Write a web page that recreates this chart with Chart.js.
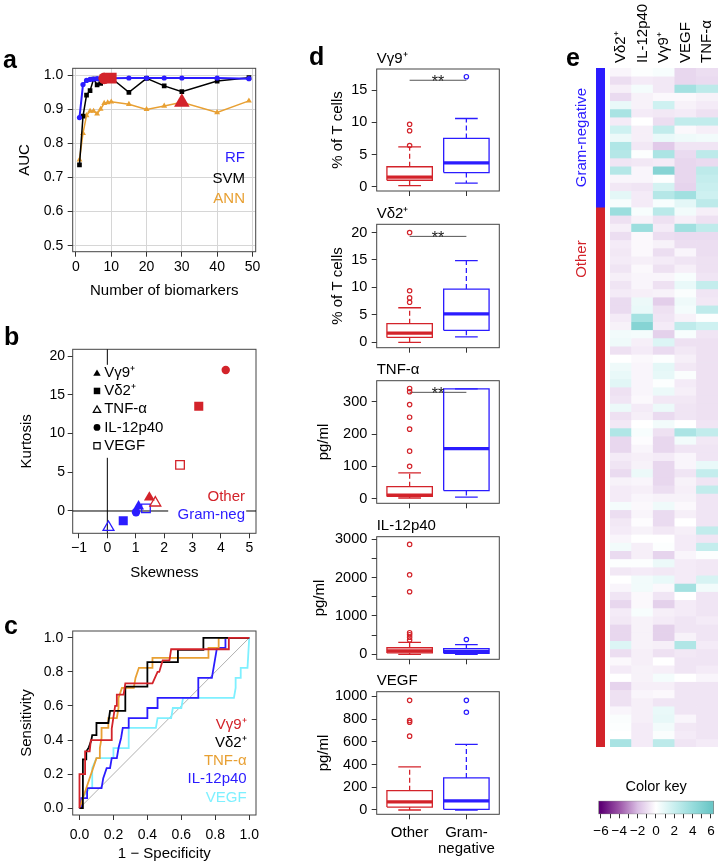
<!DOCTYPE html>
<html lang="en"><head><meta charset="utf-8"><title>Biomarker figure</title>
<script src="https://cdn.jsdelivr.net/npm/chart.js@4.4.1/dist/chart.umd.min.js"></script>
<style>
html,body{margin:0;padding:0;background:#fff}
body{position:relative;width:725px;height:866px;overflow:hidden;font-family:'Liberation Sans',Arial,sans-serif}
.box{position:absolute}
.box canvas{display:block}
.letter{position:absolute;font-weight:bold;font-size:25px;line-height:25px;color:#000;z-index:5}
</style></head><body>
<div class="box" style="left:0;top:40px;width:280px;height:265px"><canvas id="chartA"></canvas></div>
<div class="box" style="left:0;top:305px;width:280px;height:285px"><canvas id="chartB"></canvas></div>
<div class="box" style="left:0;top:590px;width:280px;height:276px"><canvas id="chartC"></canvas></div>
<div class="box" style="left:300px;top:45px;width:210px;height:155px"><canvas id="chartD1"></canvas></div>
<div class="box" style="left:300px;top:200px;width:210px;height:156px"><canvas id="chartD2"></canvas></div>
<div class="box" style="left:300px;top:356px;width:210px;height:156px"><canvas id="chartD3"></canvas></div>
<div class="box" style="left:300px;top:512px;width:210px;height:156px"><canvas id="chartD4"></canvas></div>
<div class="box" style="left:300px;top:668px;width:210px;height:198px"><canvas id="chartD5"></canvas></div>
<div class="box" style="left:560px;top:0;width:165px;height:760px"><canvas id="chartE"></canvas></div>
<div class="box" style="left:596px;top:68px;width:9px;height:679px"><canvas id="chartSide"></canvas></div>
<div class="box" style="left:560px;top:760px;width:165px;height:106px"><canvas id="chartKey"></canvas></div>
<div class="letter" style="left:3px;top:47px">a</div>
<div class="letter" style="left:4px;top:324px">b</div>
<div class="letter" style="left:4px;top:613px">c</div>
<div class="letter" style="left:309px;top:44px">d</div>
<div class="letter" style="left:566px;top:45px">e</div>
<script>
// ---------------- DATA ----------------
// panel a : AUC vs number of biomarkers
const nBio   = [1,2,3,4,5,6,7,8,9,10,15,20,25,30,40,49];
const aucRF  = [0.876,0.973,0.985,0.988,0.989,0.990,0.990,0.991,0.991,0.991,0.992,0.992,0.992,0.992,0.992,0.990];
const aucSVM = [0.737,0.880,0.942,0.955,0.989,0.972,0.976,0.986,0.990,0.992,0.950,0.991,0.969,0.952,0.983,0.993];
const aucANN = [0.752,0.830,0.882,0.895,0.895,0.887,0.901,0.918,0.920,0.922,0.915,0.900,0.910,0.921,0.891,0.925];
const modelNames = ['RF','SVM','ANN'];
const bestIndex  = [7, 9, 13];   // index into nBio of the selected model (8, 10, 30 biomarkers)

// panel b : skewness / kurtosis
const markers   = ['V\u03b39\u207a','V\u03b42\u207a','TNF-\u03b1','IL-12p40','VEGF'];
const skewOther = [1.48, 3.22, 1.69, 4.17, 2.56];
const kurtOther = [1.75, 13.53, 1.05, 18.19, 5.95];
const skewGram  = [1.10, 0.56, 0.04, 1.01, 1.36];
const kurtGram  = [0.60, -1.25, -2.10, -0.17, 0.34];
const groupNamesShort = ['Other','Gram-neg'];

// panel c : ROC curves (1 - specificity, sensitivity)
const vg9Fpr  = [0,0,0.033,0.033,0.06,0.067,0.19,0.19,0.2,0.21,0.22,0.22,0.26,0.27,0.43,0.46,0.47,0.49,0.53,0.54,0.88,0.88,1];
const vg9Tpr  = [0,0.2,0.2,0.333,0.333,0.4,0.4,0.467,0.533,0.6,0.6,0.667,0.667,0.733,0.733,0.8,0.8,0.867,0.867,0.933,0.933,1,1];
const vd2Fpr  = [0,0.02,0.02,0.04,0.04,0.055,0.07,0.075,0.1,0.1,0.17,0.18,0.27,0.27,0.4,0.4,0.58,0.58,0.73,0.73,1];
const vd2Tpr  = [0,0,0.286,0.286,0.333,0.357,0.4,0.429,0.429,0.5,0.5,0.571,0.571,0.714,0.714,0.857,0.857,0.929,0.929,1,1];
const tnfFpr  = [0,0.1,0.12,0.12,0.13,0.13,0.17,0.17,0.22,0.23,0.23,0.25,0.32,0.33,0.35,0.43,0.43,0.76,0.76,0.82,0.82,1];
const tnfTpr  = [0,0.294,0.294,0.353,0.412,0.471,0.471,0.529,0.529,0.588,0.647,0.706,0.706,0.765,0.824,0.824,0.882,0.882,0.941,0.941,1,1];
const il12Fpr = [0,0.01,0.01,0.045,0.045,0.13,0.14,0.16,0.18,0.19,0.22,0.23,0.245,0.255,0.29,0.29,0.4,0.4,0.46,0.46,0.7,0.7,0.78,0.79,0.8,0.81,0.86,0.86,1];
const il12Tpr = [0,0,0.059,0.059,0.118,0.118,0.176,0.235,0.235,0.294,0.294,0.353,0.412,0.471,0.471,0.529,0.529,0.588,0.588,0.647,0.647,0.765,0.765,0.824,0.882,0.941,0.941,1,1];
const vegfFpr = [0,0.015,0.06,0.075,0.075,0.1,0.2,0.2,0.29,0.29,0.45,0.46,0.54,0.55,0.6,0.61,0.91,0.92,0.92,0.95,0.95,0.99,1];
const vegfTpr = [0,0.059,0.118,0.118,0.235,0.294,0.294,0.353,0.353,0.471,0.471,0.529,0.529,0.588,0.588,0.647,0.647,0.706,0.765,0.765,0.824,0.824,1];

// panel d : box plots  [lower whisker, Q1, median, Q3, upper whisker]
const boxGroups = ['Other', ['Gram-','negative']];
const vg9Other = [0.16, 1.0, 1.5, 3.1, 6.2];   const vg9OtherOut = [6.4, 8.7, 9.7];
const vg9Gram  = [0.57, 2.2, 3.7, 7.5, 10.6];  const vg9GramOut  = [17.1];
const vd2Other = [0.0, 0.9, 1.7, 3.4, 6.3];    const vd2OtherOut = [7.3, 8.1, 9.4, 20.0];
const vd2Gram  = [1.0, 2.2, 5.2, 9.7, 14.9];   const vd2GramOut  = [];
const tnfOther = [2, 7, 11, 37, 80];           const tnfOtherOut = [100, 147, 215, 252, 291, 331, 341];
const tnfGram  = [5, 25, 155, 340, 340];       const tnfGramOut  = [];
const il12Other = [5, 40, 95, 175, 316];       const il12OtherOut = [377, 447, 514, 566, 1630, 2070, 2860];
const il12Gram  = [5, 30, 82, 150, 255];       const il12GramOut  = [390];
const vegfOther = [0, 26, 72, 170, 380];       const vegfOtherOut = [650, 772, 787, 965];
const vegfGram  = [0, 6, 80, 282, 578];        const vegfGramOut  = [860, 965];
const vg9Sig = 16.55, vd2Sig = 19.3, tnfSig = 329;
const il12Ticks = [0, 500, 1000, 1500, 2000, 2500, 3000];
const il12TickLabels = ['0', '', '1000', '', '2000', '', '3000'];

// panel e : heat map (rows = patients, top to bottom)
const heatLabels = ['V\u03b42\u207a','IL-12p40','V\u03b39\u207a','VEGF','TNF-\u03b1'];
const rowGroups = ['Gram-negative','Other'];
const groupCounts = [17, 66];
const vd2Heat = [-0.3,-1.0,-0.5,-1.1,0.8,3.3,-0.6,1.8,0.7,3.0, 2.8,-0.8,2.8,-0.3,-0.7,1.0,0.3,3.8,-0.9,-0.5,
 -1.0,-0.6,-0.7,-0.6,-0.8,-0.5,-0.8,-0.6,-1.1,-1.1, -0.6,-0.4,0.5,0.6,-0.9,0.0,0.6,0.8,1.1,-0.9,
 -0.8,0.7,-0.9,-0.7,3.0,-1.2,-1.2,-0.6,-0.8,-1.1, -0.4,-0.6,-0.6,0.4,-1.0,-0.7,-0.6,-0.3,0.5,-1.1,
 0.1,-0.7,0.0,-0.3,-0.8,-1.2,-0.6,-0.7,-1.2,-1.2, 1.3,-1.0,-0.2,-0.6,0.0,-1.3,-0.9,-0.9,-0.3,0.2, 0.1,0.0,3.3];
const il12Heat = [0.1,-0.6,0.4,-0.4,-0.4,-0.6,0.0,-0.5,-0.5,-0.7, 0.1,-0.7,-0.3,-0.3,-0.8,-0.6,-0.6,0.3,-0.4,3.8,
 -0.2,-0.2,-0.2,-0.5,-0.2,-0.3,-0.3,-0.5,0.7,0.8, 3.4,4.8,0.4,-0.5,-0.6,-0.2,-0.3,-0.3,-0.3,-0.3,
 -0.2,-0.6,-0.5,0.0,0.3,-0.1,-0.3,-0.5,-0.4,0.7, -0.3,-0.5,-0.3,-0.2,-0.3,-0.1,-0.4,0.0,-0.5,-0.5,
 0.1,-0.6,0.5,0.5,-0.2,-0.2,0.3,-0.4,-0.4,-0.4, -0.4,-0.5,-0.5,-0.4,-0.4,-0.5,-0.3,-0.5,-0.5,-0.5, -0.6,-0.6,-0.6];
const vg9Heat = [0.3,-0.7,-0.7,-0.2,1.8,-0.7,-1.0,2.3,0.8,-1.6, 3.2,-0.6,4.8,0.1,1.6,2.8,0.3,2.6,-0.9,-0.6,
 -1.0,-0.4,-1.0,-0.6,-0.9,-0.3,-0.9,-0.4,-1.5,-0.9, -0.8,-0.6,-1.4,1.3,-1.1,0.1,1.0,0.9,0.1,0.7,
 -0.7,0.7,-1.1,0.5,-0.9,-1.2,-1.2,-0.6,-1.2,-1.2, -1.2,-1.0,-0.4,0.6,-1.1,-1.1,-0.7,0.0,0.1,-1.3,
 0.7,-0.7,0.8,-0.2,-0.8,-1.4,-0.5,-0.6,-1.4,-1.4, -0.5,-0.9,0.0,-0.5,0.4,-0.5,-0.2,-0.8,0.8,0.9, 0.5,0.2,2.5];
const vegfHeat = [-1.2,-1.2,3.5,-0.2,-0.4,-0.6,2.3,-0.2,0.6,-0.8, -1.1,-1.2,-1.2,-1.2,-1.3,3.6,1.0,0.5,-0.5,3.6,
 -1.1,-1.0,-0.3,-0.8,-0.5,0.3,0.8,0.2,0.6,0.4, -0.4,2.4,0.3,-0.9,-0.7,-0.5,-0.7,0.2,-0.6,-0.5,
 -0.7,-0.8,-0.8,0.0,3.2,0.5,-0.8,-0.3,-0.3,-0.8, -0.4,-0.5,-0.4,-0.2,-0.5,0.0,-0.5,-0.6,-0.6,-0.3,
 -0.6,-0.6,-0.6,3.5,0.0,-0.6,-0.6,-0.8,-0.8,-0.4, 3.0,-0.7,-0.8,-0.8,0.0,-0.8,-0.8,-0.8,-0.8,-0.3, -0.7,-0.6,-0.8];
const tnfHeat = [-1.0,-1.1,2.5,-0.4,-0.6,-0.9,2.3,-0.5,0.5,-0.8, 2.5,-1.1,2.5,2.2,2.0,1.8,2.5,-0.5,-0.9,2.4,
 -1.1,-1.0,-1.0,-0.9,-0.9,-0.8,2.2,-0.8,-0.7,2.4, 0.1,1.8,-0.8,-0.9,-0.9,-0.9,-0.9,-0.9,-0.9,-0.9,
 -0.9,-0.9,-0.9,-0.8,2.3,-0.7,-0.8,-0.8,0.8,2.2, -0.8,2.3,-0.8,-0.8,-0.8,-0.8,2.3,-0.8,2.2,0.1,
 -0.7,-0.7,1.5,0.5,-0.8,-0.8,-0.8,-0.6,-0.8,-0.8, -0.6,-0.8,-0.8,-0.6,-0.3,-0.8,-0.8,-0.8,-0.8,-0.8, -0.8,-0.8,-0.6];

// colour key
const keyValues = [-6,-4,-2,0,2,4,6];
const keyColors = ['#5e0075','#9c55a8','#d9bde3','#ffffff','#c9efef','#97dcdc','#6cc7c7'];
const keyRange  = [-6.29, 6.33];

// ---------------- STYLE ----------------
const RED = '#d3232a', BLUE = '#2b1cff', ORANGE = '#e8a033', CYAN = '#7ef0ff', BLACK = '#000000';
const FONT = "'Liberation Sans', Arial, sans-serif";
Chart.defaults.font.family = FONT;
Chart.defaults.color = '#000';
Chart.defaults.animation = false;
Chart.defaults.responsive = true;
Chart.defaults.maintainAspectRatio = false;
Chart.defaults.events = [];
Chart.defaults.plugins.legend.display = false;
Chart.defaults.plugins.tooltip.enabled = false;

const fmtNum = v => (v < 0 ? '\u2212' : '') + Math.abs(Math.round(v * 1000) / 1000);

function text(ctx, str, x, y, o = {}) {
  ctx.save();
  ctx.font = `${o.bold ? 'bold ' : ''}${o.size || 15}px ${FONT}`;
  ctx.fillStyle = o.color || '#000';
  ctx.textAlign = o.align || 'left';
  ctx.textBaseline = o.baseline || 'middle';
  if (o.rotate) { ctx.translate(x, y); ctx.rotate(o.rotate); ctx.fillText(str, 0, 0); }
  else ctx.fillText(str, x, y);
  ctx.restore();
}
function frame(chart) {
  const {ctx, chartArea: a} = chart;
  ctx.save(); ctx.strokeStyle = '#444'; ctx.lineWidth = 1;
  ctx.strokeRect(a.left, a.top, a.right - a.left, a.bottom - a.top);
  ctx.restore();
}
function fixedScale(size, horizontal) {
  return s => {
    if (horizontal) s.height = size; else s.width = size;
    s.paddingLeft = s.paddingRight = s.paddingTop = s.paddingBottom = 0;
  };
}
function linAxis(o) {
  const horiz = o.position === 'bottom' || o.position === 'top';
  const ax = {
    type: 'linear', position: o.position, min: o.min, max: o.max,
    afterFit: fixedScale(o.size, horiz),
    ticks: { stepSize: o.step, includeBounds: false, autoSkip: false, maxRotation: 0, minRotation: 0,
      padding: o.pad, color: '#000', font: {size: o.fontSize || 14, lineHeight: o.lh || 1.2},
      display: o.labels !== false, callback: o.fmt || (v => fmtNum(v)) },
    grid: { display: true, drawOnChartArea: !!o.grid, color: '#d6d6d6', tickColor: '#333',
      tickLength: 5, lineWidth: 1, drawTicks: true },
    border: { display: false },
    title: o.title ? { display: true, text: o.title, color: '#000', font: {size: 15, lineHeight: 1.2},
      padding: o.position === 'left' ? {top: o.titlePad, bottom: 0} : {top: 0, bottom: o.titlePad} } : {display: false}
  };
  if (o.ticksAt) ax.afterBuildTicks = s => { s.ticks = o.ticksAt.map(v => ({value: v})); };
  return ax;
}
function drawSymbol(ctx, shape, filled, x, y, r, color) {
  ctx.save(); ctx.beginPath();
  if (shape === 'triangle') { ctx.moveTo(x, y - r); ctx.lineTo(x + r * 0.866, y + r / 2); ctx.lineTo(x - r * 0.866, y + r / 2); ctx.closePath(); }
  else if (shape === 'rect') { const s = r * Math.SQRT1_2; ctx.rect(x - s, y - s, 2 * s, 2 * s); }
  else ctx.arc(x, y, r, 0, Math.PI * 2);
  if (filled) { ctx.fillStyle = color; ctx.fill(); } else { ctx.strokeStyle = color; ctx.lineWidth = 1.2; ctx.stroke(); }
  ctx.restore();
}
const pts = (xs, ys) => xs.map((x, i) => ({x, y: ys[i]}));

// ---------------- PANEL A ----------------
const modelColors = [BLUE, BLACK, ORANGE];
const modelSeries = [aucRF, aucSVM, aucANN];
const bestStyles = [['circle', 5.8], ['rect', 7.6], ['triangle', 9]];
new Chart(document.getElementById('chartA'), {
  type: 'scatter',
  data: { datasets: [
    ...bestIndex.map((bi, m) => ({ label: 'best ' + modelNames[m], data: [{x: nBio[bi], y: modelSeries[m][bi]}],
      pointStyle: bestStyles[m][0], pointRadius: bestStyles[m][1], pointBackgroundColor: RED, pointBorderColor: RED, pointBorderWidth: 0 })),
    { label: 'RF', data: pts(nBio, aucRF), showLine: true, borderColor: BLUE, borderWidth: 2,
      pointStyle: 'circle', pointRadius: 2.6, pointBackgroundColor: BLUE, pointBorderWidth: 0 },
    { label: 'SVM', data: pts(nBio, aucSVM), showLine: true, borderColor: BLACK, borderWidth: 1.5,
      pointStyle: 'rect', pointRadius: 3.3, pointBackgroundColor: BLACK, pointBorderWidth: 0 },
    { label: 'ANN', data: pts(nBio, aucANN), showLine: true, borderColor: ORANGE, borderWidth: 1.5,
      pointStyle: 'triangle', pointRadius: 3.4, pointBackgroundColor: ORANGE, pointBorderWidth: 0 }
  ]},
  options: {
    layout: {autoPadding: false, padding: {left: 0, top: 28.3, right: 24.3, bottom: 0}},
    scales: {
      x: linAxis({position: 'bottom', min: -0.92, max: 50.92, step: 10, size: 53.3, pad: 2, grid: true, title: 'Number of biomarkers', titlePad: 5}),
      y: linAxis({position: 'left', min: 0.4824, max: 1.0205, step: 0.1, size: 72.7, pad: 4.4, grid: true, fmt: v => v.toFixed(1), title: 'AUC', titlePad: 16})
    }
  },
  plugins: [{ id: 'pa', beforeDatasetsDraw: c => frame(c), afterDatasetsDraw(c) {
    const a = c.chartArea;
    modelNames.forEach((m, i) => text(c.ctx, m, a.right - 10.7, a.top + 89.7 + i * 20.5, {align: 'right', color: modelColors[i], size: 15}));
  }}]
});

// ---------------- PANEL B ----------------
const markerShapes = ['triangle','rect','triangle','circle','rect'];
const markerFilled = [true, true, false, true, false];
const markerRadii  = [6.3, 6.4, 6.3, 4.2, 6.1];
const legRadii     = [4.3, 4.6, 4.3, 3.4, 4.4];
function skewSet(label, xs, ys, color) {
  return { label, data: pts(xs, ys), pointStyle: markerShapes, pointRadius: markerRadii,
    pointBackgroundColor: markerFilled.map(f => f ? color : 'rgba(0,0,0,0)'), pointBorderColor: color,
    pointBorderWidth: markerFilled.map(f => f ? 0 : 1.3) };
}
new Chart(document.getElementById('chartB'), {
  type: 'scatter',
  data: { datasets: [ skewSet('Other', skewOther, kurtOther, RED), skewSet('Gram-negative', skewGram, kurtGram, BLUE) ] },
  options: {
    layout: {autoPadding: false, padding: {left: 0, top: 44.3, right: 24, bottom: 0}},
    scales: {
      x: linAxis({position: 'bottom', min: -1.22, max: 5.236, step: 1, size: 56.7, pad: 1.6, title: 'Skewness', titlePad: 8.3}),
      y: linAxis({position: 'left', min: -2.88, max: 20.87, step: 5, size: 72.7, pad: 2.7, title: 'Kurtosis', titlePad: 18})
    }
  },
  plugins: [{ id: 'pb',
    beforeDatasetsDraw(c) {
      frame(c);
      const {ctx, chartArea: a, scales: {x, y}} = c;
      ctx.save(); ctx.strokeStyle = '#000'; ctx.lineWidth = 1; ctx.beginPath();
      const x0 = x.getPixelForValue(0), y0 = y.getPixelForValue(0);
      ctx.moveTo(x0, a.top); ctx.lineTo(x0, a.bottom); ctx.moveTo(a.left, y0); ctx.lineTo(a.right, y0);
      ctx.stroke(); ctx.restore();
    },
    afterDatasetsDraw(c) {
      const {ctx, chartArea: a} = c;
      ctx.save(); ctx.fillStyle = '#fff';
      ctx.fillRect(a.left + 15, a.top + 15.5, 78, 93);
      ctx.fillRect(a.left + 95.5, a.top + 138.5, 78, 35);
      ctx.restore();
      markers.forEach((m, i) => {
        const yy = a.top + 23.4 + i * 18.25;
        drawSymbol(ctx, markerShapes[i], markerFilled[i], a.left + 24.3, yy + (markerShapes[i] === 'triangle' ? 1 : 0), legRadii[i], '#000');
        text(ctx, m, a.left + 31.5, yy, {size: 15});
      });
      text(ctx, groupNamesShort[0], a.right - 11, a.top + 147.4, {align: 'right', color: RED, size: 15});
      text(ctx, groupNamesShort[1], a.right - 11, a.top + 165.7, {align: 'right', color: BLUE, size: 15});
    }
  }]
});

// ---------------- PANEL C ----------------
const rocFpr = [vg9Fpr, vd2Fpr, tnfFpr, il12Fpr, vegfFpr];
const rocTpr = [vg9Tpr, vd2Tpr, tnfTpr, il12Tpr, vegfTpr];
const rocColors = [RED, BLACK, ORANGE, BLUE, CYAN];
new Chart(document.getElementById('chartC'), {
  type: 'scatter',
  data: { datasets: [
    ...markers.map((m, i) => ({ label: m, data: pts(rocFpr[i], rocTpr[i]), showLine: true, borderColor: rocColors[i],
      borderWidth: 1.8, pointRadius: 0, borderJoinStyle: 'miter' })),
    { label: 'chance', data: [{x: 0, y: 0}, {x: 1, y: 1}], showLine: true, borderColor: '#b0b0b0', borderWidth: 1, pointRadius: 0 }
  ]},
  options: {
    layout: {autoPadding: false, padding: {left: 0, top: 41, right: 24, bottom: 0}},
    scales: {
      x: linAxis({position: 'bottom', min: -0.04, max: 1.04, step: 0.2, size: 51, pad: 6.6, fmt: v => v.toFixed(1), title: '1 \u2212 Specificity', titlePad: 2.7}),
      y: linAxis({position: 'left', min: -0.04, max: 1.04, step: 0.2, size: 72.7, pad: 4.4, fmt: v => v.toFixed(1), title: 'Sensitivity', titlePad: 18})
    }
  },
  plugins: [{ id: 'pc', beforeDatasetsDraw: c => frame(c), afterDatasetsDraw(c) {
    const a = c.chartArea;
    markers.forEach((m, i) => text(c.ctx, m, a.right - 9.3, a.top + 94 + i * 18.1, {align: 'right', color: rocColors[i], size: 15}));
  }}]
});

// ---------------- PANEL D ----------------
const groupColors = [RED, BLUE];
function boxDatasets(stats, outs, x, color) {
  const [lw, q1, med, q3, uw] = stats; const h = 0.4, c = 0.2;
  const seg = (p, w, dash) => ({ data: p, showLine: true, borderColor: color, borderWidth: w, borderDash: dash || [], pointRadius: 0, borderCapStyle: 'butt' });
  return [
    seg([{x: x - h, y: q1}, {x: x + h, y: q1}, {x: x + h, y: q3}, {x: x - h, y: q3}, {x: x - h, y: q1}], 1.3),
    seg([{x: x - h, y: med}, {x: x + h, y: med}], 3.2),
    seg([{x, y: q3}, {x, y: uw}], 1.3, [5, 3]),
    seg([{x, y: q1}, {x, y: lw}], 1.3, [5, 3]),
    seg([{x: x - c, y: uw}, {x: x + c, y: uw}], 1.3),
    seg([{x: x - c, y: lw}, {x: x + c, y: lw}], 1.3),
    { data: outs.map(v => ({x, y: v})), pointStyle: 'circle', pointRadius: 2.2, pointBorderWidth: 1.2,
      pointBorderColor: color, pointBackgroundColor: 'rgba(0,0,0,0)' }
  ];
}
const boxPanels = [
  {id: 'chartD1', title: 'V\u03b39\u207a', ylab: '% of T cells', stats: [vg9Other, vg9Gram], outs: [vg9OtherOut, vg9GramOut], sig: vg9Sig,
   min: -0.67, max: 18.3, step: 5, padTop: 24, xSize: 9, ylabPad: 29.3},
  {id: 'chartD2', title: 'V\u03b42\u207a', ylab: '% of T cells', stats: [vd2Other, vd2Gram], outs: [vd2OtherOut, vd2GramOut], sig: vd2Sig,
   min: -0.97, max: 21.5, step: 5, padTop: 24.3, xSize: 8.3, ylabPad: 29.3},
  {id: 'chartD3', title: 'TNF-\u03b1', ylab: 'pg/ml', stats: [tnfOther, tnfGram], outs: [tnfOtherOut, tnfGramOut], sig: tnfSig,
   min: -14.4, max: 365, step: 100, padTop: 24.7, xSize: 8.7, ylabPad: 15},
  {id: 'chartD4', title: 'IL-12p40', ylab: 'pg/ml', stats: [il12Other, il12Gram], outs: [il12OtherOut, il12GramOut], sig: null,
   min: -125, max: 3060, ticksAt: il12Ticks, fmt: (v, i) => il12TickLabels[i], padTop: 24.7, xSize: 8.7, ylabPad: 11},
  {id: 'chartD5', title: 'VEGF', ylab: 'pg/ml', stats: [vegfOther, vegfGram], outs: [vegfOtherOut, vegfGramOut], sig: null,
   min: -38, max: 1041, step: 200, padTop: 23.7, xSize: 51.7, ylabPad: 15.3, showX: true}
];
boxPanels.forEach(p => {
  const datasets = [];
  p.stats.forEach((s, g) => datasets.push(...boxDatasets(s, p.outs[g], g + 1, groupColors[g])));
  if (p.sig !== null) datasets.push({ data: [{x: 1, y: p.sig}, {x: 2, y: p.sig}], showLine: true, borderColor: '#555', borderWidth: 1, pointRadius: 0 });
  new Chart(document.getElementById(p.id), {
    type: 'scatter',
    data: { datasets },
    options: {
      layout: {autoPadding: false, padding: {left: 0, top: p.padTop, right: 10.7, bottom: 0}},
      scales: {
        x: linAxis({position: 'bottom', min: 0.42, max: 2.58, ticksAt: [1, 2], size: p.xSize, pad: 5.1, labels: !!p.showX,
          fontSize: 15, lh: 1.1, fmt: (v, i) => boxGroups[i]}),
        y: linAxis({position: 'left', min: p.min, max: p.max, step: p.step, ticksAt: p.ticksAt, size: 76.7, pad: 4.4, fontSize: 14.5, fmt: p.fmt,
          title: p.ylab, titlePad: p.ylabPad})
      }
    },
    plugins: [{ id: 'pd', beforeDatasetsDraw: c => frame(c), afterDatasetsDraw(c) {
      const a = c.chartArea;
      text(c.ctx, p.title, a.left, a.top - 10.5, {size: 15});
      if (p.sig !== null) text(c.ctx, '**', c.scales.x.getPixelForValue(1.5), c.scales.y.getPixelForValue(p.sig) + 6.5,
        {align: 'center', baseline: 'alphabetic', size: 16, color: '#222'});
    }}]
  });
});

// ---------------- PANEL E ----------------
const keyRgb = keyColors.map(h => [1, 3, 5].map(i => parseInt(h.slice(i, i + 2), 16)));
function colorFor(v) {
  const k = keyValues;
  if (v <= k[0]) return keyColors[0];
  if (v >= k[k.length - 1]) return keyColors[k.length - 1];
  let i = 0; while (v > k[i + 1]) i++;
  const t = (v - k[i]) / (k[i + 1] - k[i]);
  const c = keyRgb[i].map((c0, j) => Math.round(c0 + (keyRgb[i + 1][j] - c0) * t));
  return `rgb(${c[0]},${c[1]},${c[2]})`;
}
const heatSeries = [vd2Heat, il12Heat, vg9Heat, vegfHeat, tnfHeat];
const nRows = vd2Heat.length;
const heatDatasets = Array.from({length: nRows}, (_, r) => ({
  label: 'row ' + (r + 1), data: heatSeries.map(() => 1),
  backgroundColor: heatSeries.map(s => colorFor(s[r])),
  borderWidth: 0, categoryPercentage: 1, barPercentage: 1
}));
new Chart(document.getElementById('chartE'), {
  type: 'bar',
  data: { labels: heatLabels, datasets: heatDatasets },
  options: {
    layout: {autoPadding: false, padding: {left: 50, top: 68, right: 7, bottom: 13}},
    scales: {
      x: {type: 'category', display: false, stacked: true},
      y: {type: 'linear', display: false, stacked: true, min: 0, max: nRows, reverse: true}
    }
  },
  plugins: [{ id: 'pe', afterDraw(c) {
    const {ctx, chartArea: a, scales: {x, y}} = c;
    heatLabels.forEach((l, i) => text(ctx, l, x.getPixelForValue(i), a.top - 5, {size: 15, rotate: -Math.PI / 2}));
    text(ctx, rowGroups[0], a.left - 28.3, y.getPixelForValue(groupCounts[0] / 2), {size: 15, color: BLUE, align: 'center', rotate: -Math.PI / 2});
    text(ctx, rowGroups[1], a.left - 28.3, y.getPixelForValue(groupCounts[0]) + 52, {size: 15, color: RED, align: 'center', rotate: -Math.PI / 2});
  }}]
});
new Chart(document.getElementById('chartSide'), {
  type: 'bar',
  data: { labels: ['group'], datasets: rowGroups.map((g, i) => ({ label: g, data: [groupCounts[i]],
    backgroundColor: i === 0 ? BLUE : RED, borderWidth: 0, categoryPercentage: 1, barPercentage: 1 })) },
  options: {
    layout: {autoPadding: false, padding: 0},
    scales: {
      x: {type: 'category', display: false, stacked: true},
      y: {type: 'linear', display: false, stacked: true, min: 0, max: nRows, reverse: true}
    }
  }
});
new Chart(document.getElementById('chartKey'), {
  type: 'bar',
  data: { labels: ['key'], datasets: [{ label: 'Color key', data: [[keyRange[0], keyRange[1]]],
    backgroundColor: ctx => {
      const ch = ctx.chart, xs = ch.scales.x;
      if (!xs || !ch.chartArea) return '#fff';
      const lo = keyValues[0], hi = keyValues[keyValues.length - 1];
      const g = ch.ctx.createLinearGradient(xs.getPixelForValue(lo), 0, xs.getPixelForValue(hi), 0);
      keyValues.forEach((v, i) => g.addColorStop((v - lo) / (hi - lo), keyColors[i]));
      return g;
    },
    borderColor: '#808080', borderWidth: 1, borderSkipped: false, categoryPercentage: 1, barPercentage: 1 }] },
  options: {
    indexAxis: 'y',
    layout: {autoPadding: false, padding: {left: 38.3, top: 40.7, right: 11, bottom: 0}},
    scales: {
      x: { type: 'linear', position: 'bottom', min: keyRange[0], max: keyRange[1], afterFit: fixedScale(51.7, true),
        ticks: {stepSize: 1, includeBounds: false, autoSkip: false, maxRotation: 0, padding: 4.6, color: '#000', font: {size: 13.5},
          callback: v => (v % 2 === 0 ? fmtNum(v) : '')},
        grid: {drawOnChartArea: false, tickLength: 4, tickColor: '#333'}, border: {display: false} },
      y: { type: 'category', display: false }
    }
  },
  plugins: [{ id: 'pk', afterDraw(c) {
    const a = c.chartArea;
    text(c.ctx, 'Color key', (a.left + a.right) / 2, a.top - 13.4, {size: 14.5, align: 'center'});
  }}]
});
</script>
</body></html>
